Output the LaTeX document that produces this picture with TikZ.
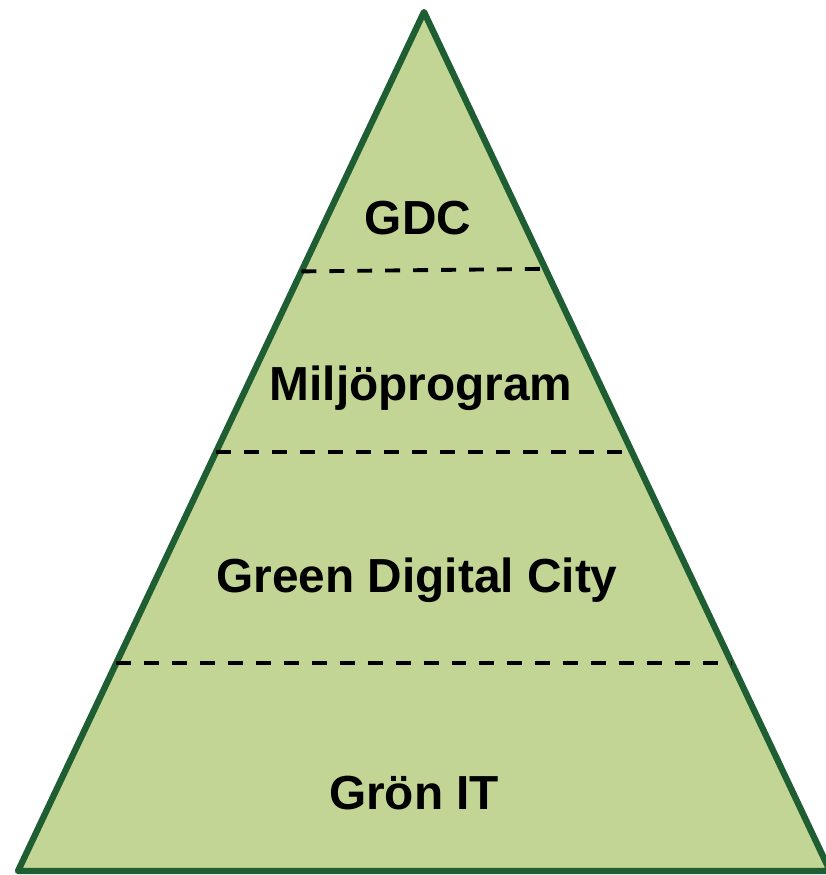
\documentclass[tikz,border=0pt]{standalone}
\usepackage{fontspec}
\setmainfont{Liberation Sans}
\usetikzlibrary{calc}
\definecolor{leaf}{RGB}{195,213,148}
\definecolor{pine}{RGB}{30,94,50}
\tikzset{level/.style={font=\bfseries\fontsize{27.2}{32}\selectfont, inner sep=0pt},
  divider/.style={line width=2.2pt, dash pattern=on 8.5pt off 7.4pt}}

\begin{document}
\begin{tikzpicture}
\useasboundingbox (0,0) rectangle (16.5,17.5);
\coordinate (top) at (8.48,17.26);
\coordinate (bl) at (0.36,0.08);
\coordinate (br) at (16.6,0.08);
%pyramid
\draw[pine, fill=leaf, line width=3.6pt, line join=round] (top) -- (bl) -- (br) -- cycle;
%dividers between the levels
\draw[divider] ($(top)!0.302!(bl)$) -- ($(top)!0.299!(br)$);
\foreach \t in {0.512, 0.758} {\draw[divider] ($(top)!\t!(bl)$) -- ($(top)!\t!(br)$);}
\node[level] (gdc) at (8.36,13.14) {GDC};
\node[level] (miljo) at (8.42,9.74) {Miljöprogram};
\node[level] (gdcity) at (8.34,5.9) {Green Digital City};
\node[level] (gronit) at (8.28,1.64) {Grön IT};
\end{tikzpicture}
\end{document}
